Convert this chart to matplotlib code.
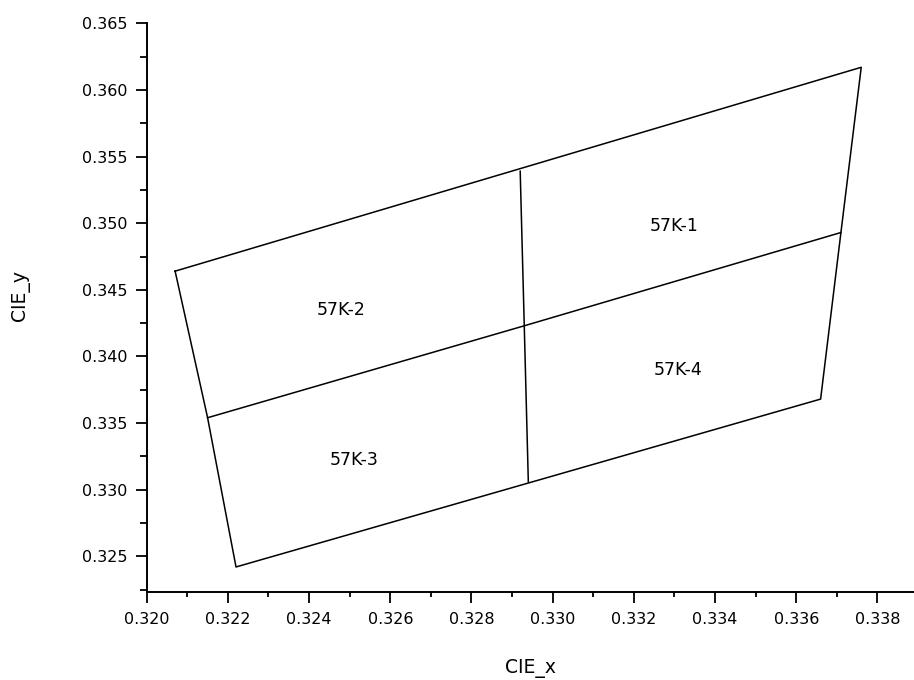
import matplotlib
matplotlib.use("Agg")
import matplotlib.pyplot as plt
from matplotlib.ticker import MultipleLocator, FormatStrFormatter

# Grid corner points of the four bins (CIE x, y)
top_x = [0.3207, 0.3292, 0.3376]
top_y = [0.3464, 0.3539, 0.3617]
mid_x = [0.3215, 0.3293, 0.3371]
mid_y = [0.3354, 0.3423, 0.3493]
bot_x = [0.3222, 0.3294, 0.3366]
bot_y = [0.3242, 0.3306, 0.3368]

bin_names = ['57K-1', '57K-2', '57K-3', '57K-4']
label_x = [0.3330, 0.3248, 0.3251, 0.3331]
label_y = [0.3498, 0.3435, 0.3322, 0.3390]

plt.rcParams['font.family'] = ['DejaVu Sans']

fig = plt.figure(figsize=(9.14, 6.8), dpi=100)
ax = fig.add_axes([0.1605, 0.129, 0.8395, 0.8367])

lw = 1.1
# outer boundary
ax.plot([top_x[0], top_x[2], mid_x[2], bot_x[2], bot_x[0], mid_x[0], top_x[0]],
        [top_y[0], top_y[2], mid_y[2], bot_y[2], bot_y[0], mid_y[0], top_y[0]],
        color='black', lw=lw)
# middle horizontal line
ax.plot(mid_x, mid_y, color='black', lw=lw)
# middle vertical line
ax.plot([top_x[1], mid_x[1], bot_x[1]], [top_y[1], mid_y[1], bot_y[1]],
        color='black', lw=lw)

for name, x, y in zip(bin_names, label_x, label_y):
    ax.text(x, y, name, ha='center', va='center', fontsize=12.5)

ax.set_xlim(0.320, 0.3389)
ax.set_ylim(0.3223, 0.365)

ax.spines['top'].set_visible(False)
ax.spines['right'].set_visible(False)
ax.spines['left'].set_linewidth(1.4)
ax.spines['bottom'].set_linewidth(1.4)

ax.xaxis.set_major_locator(MultipleLocator(0.002))
ax.xaxis.set_minor_locator(MultipleLocator(0.001))
ax.yaxis.set_major_locator(MultipleLocator(0.005))
ax.yaxis.set_minor_locator(MultipleLocator(0.0025))
ax.xaxis.set_major_formatter(FormatStrFormatter('%.3f'))
ax.yaxis.set_major_formatter(FormatStrFormatter('%.3f'))

ax.tick_params(axis='both', which='major', direction='out', length=8, width=1.3,
               labelsize=11.5, pad=6)
ax.tick_params(axis='x', which='minor', direction='out', length=3.5, width=1.3)
ax.tick_params(axis='y', which='minor', direction='out', length=5, width=1.3)

ax.set_xlabel('CIE_x', fontsize=13.5)
ax.set_ylabel('CIE_y', fontsize=13.5)
ax.xaxis.set_label_coords(0.5, -0.118)
ax.yaxis.set_label_coords(-0.152, 0.522)

fig.savefig('out.png', dpi=100)
